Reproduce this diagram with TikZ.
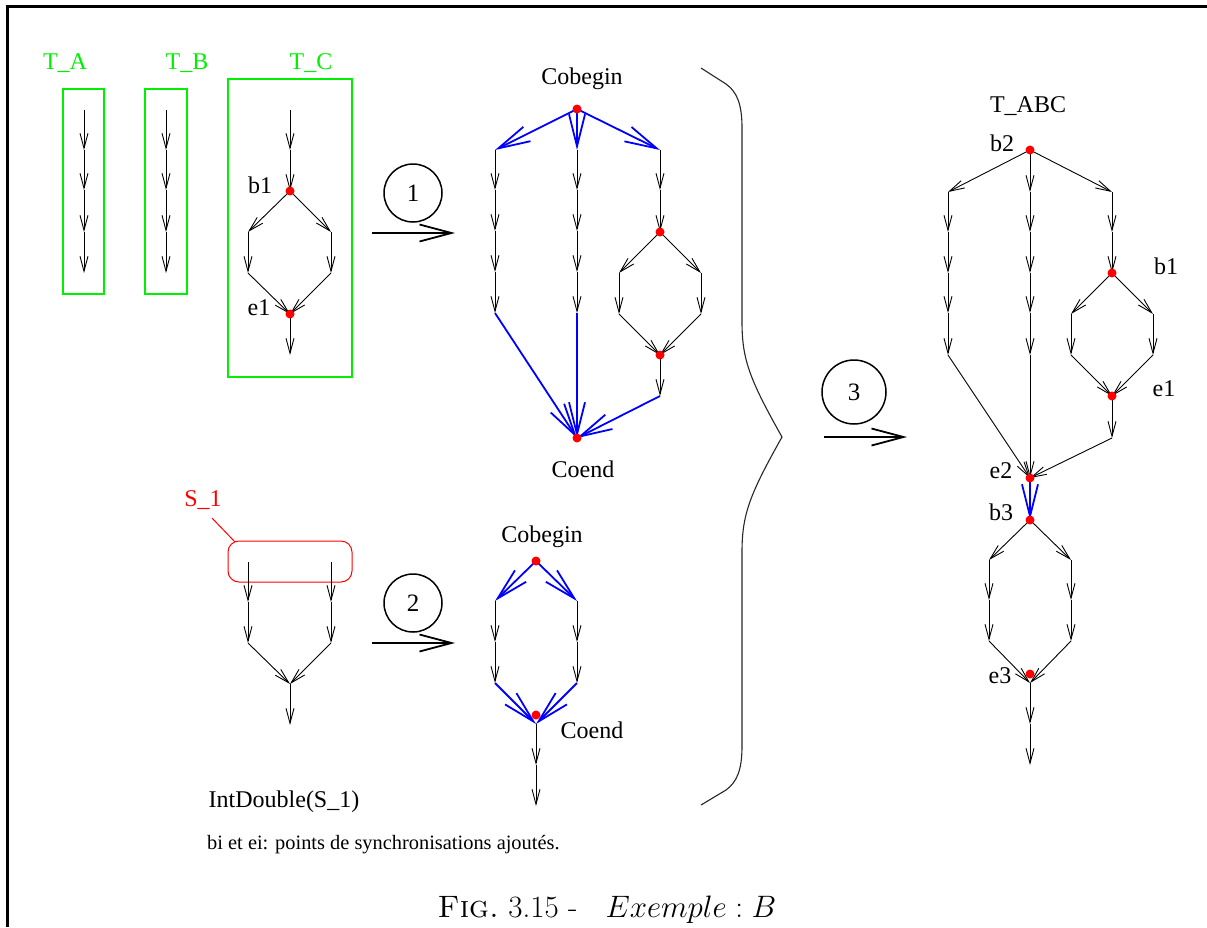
\RequirePackage{fix-cm}
\documentclass[tikz,border=0pt]{standalone}
\usepackage{fontspec}
\newfontfamily\tms{Liberation Serif}
\usetikzlibrary{arrows.meta}
\definecolor{grn}{RGB}{0,240,0}
\definecolor{blu}{RGB}{0,0,255}
\definecolor{rd}{RGB}{255,0,0}
\begin{document}
\begin{tikzpicture}[x=1pt,y=-1pt,
  ln/.style={black,line width=0.9pt},
  arr/.style={ln,-{Straight Barb[length=15pt,width=8pt]}},
  barr/.style={blu,line width=1.8pt,-{Straight Barb[length=32pt,width=16pt]}},
  bigarr/.style={black,line width=1.8pt,-{Straight Barb[length=32pt,width=17pt]}},
  lab/.style={font=\tms\fontsize{24}{28}\selectfont,anchor=base,inner sep=0pt},
  numc/.style={draw,circle,line width=1.5pt,inner sep=0pt,font=\tms\fontsize{25}{28}\selectfont},
  gbox/.style={grn,line width=1.1pt},
  dotc/.style={rd}]
\useasboundingbox (0,0) rectangle (1207,927);
% frame
\draw[line width=3pt] (6,6.4) -- (1207,6.4);
\draw[line width=3pt] (7.5,5) -- (7.5,927);

% ---------------- T_A, T_B, T_C
\node[lab,grn] (lTA) at (65,69) {T\_A};
\node[lab,grn] (lTB) at (187,69) {T\_B};
\node[lab,grn] (lTC) at (311,69) {T\_C};
\draw[gbox] (63,89) rectangle (104,294);
\draw[gbox] (145,89) rectangle (187,294);
\draw[gbox] (228,79) rectangle (352,377);
\foreach \n/\y in {0/110,1/150,2/190,3/232,4/273}{
  \coordinate (ta\n) at (84,\y);
  \coordinate (tb\n) at (166,\y);}
\foreach \i/\j in {0/1,1/2,2/3,3/4}{
  \draw[arr] (ta\i) -- (ta\j);
  \draw[arr] (tb\i) -- (tb\j);}
\coordinate (tc0) at (290,110);
\coordinate (tc1) at (290,150);
\coordinate (tcb) at (290,191);
\coordinate (tcL1) at (248,232);
\coordinate (tcR1) at (331,232);
\coordinate (tcL2) at (248,273);
\coordinate (tcR2) at (331,273);
\coordinate (tce) at (290,314);
\coordinate (tc5) at (290,355);
\draw[arr] (tc0) -- (tc1);
\draw[arr] (tc1) -- (tcb);
\draw[arr] (tcb) -- (tcL1);
\draw[arr] (tcb) -- (tcR1);
\draw[arr] (tcL1) -- (tcL2);
\draw[arr] (tcR1) -- (tcR2);
\draw[arr] (tcL2) -- (tce);
\draw[arr] (tcR2) -- (tce);
\draw[arr] (tce) -- (tc5);
\fill[dotc] (tcb) circle[radius=4.5pt];
\fill[dotc] (tce) circle[radius=4.5pt];
\node[lab] (ltcb) at (260,193) {b1};
\node[lab] (ltce) at (259,315) {e1};

% ---------------- arrow 1
\node[numc,minimum size=58pt] (n1) at (413,193) {1};
\coordinate (a1s) at (372,233);
\coordinate (a1e) at (455,233);
\draw[bigarr] (a1s) -- (a1e);

% ---------------- graph 1
\node[lab] (lcob1) at (582,84) {Cobegin};
\node[lab] (lcoe1) at (583,477) {Coend};
\coordinate (gcob) at (577,109);
\coordinate (gcoe) at (577,438);
\foreach \n/\y in {0/150,1/190,2/231,3/272,4/313}{
  \coordinate (gA\n) at (495,\y);
  \coordinate (gB\n) at (577,\y);}
\foreach \i/\j in {0/1,1/2,2/3,3/4}{
  \draw[arr] (gA\i) -- (gA\j);
  \draw[arr] (gB\i) -- (gB\j);}
\coordinate (gC0) at (660,150);
\coordinate (gC1) at (660,190);
\coordinate (gCb) at (660,232);
\coordinate (gCL1) at (619,273);
\coordinate (gCR1) at (701,273);
\coordinate (gCL2) at (619,314);
\coordinate (gCR2) at (701,314);
\coordinate (gCe) at (660,355);
\coordinate (gC5) at (660,396);
\draw[arr] (gC0) -- (gC1);
\draw[arr] (gC1) -- (gCb);
\draw[arr] (gCb) -- (gCL1);
\draw[arr] (gCb) -- (gCR1);
\draw[arr] (gCL1) -- (gCL2);
\draw[arr] (gCR1) -- (gCR2);
\draw[arr] (gCL2) -- (gCe);
\draw[arr] (gCR2) -- (gCe);
\draw[arr] (gCe) -- (gC5);
\draw[barr] (gcob) -- (gA0);
\draw[barr] (gcob) -- (gB0);
\draw[barr] (gcob) -- (gC0);
\draw[barr] (gA4) -- (gcoe);
\draw[barr] (gB4) -- (gcoe);
\draw[barr] (gC5) -- (gcoe);
\foreach \p in {gcob,gcoe,gCb,gCe}{\fill[dotc] (\p) circle[radius=4.5pt];}

% ---------------- brace
\draw[line width=1.1pt,black!85] (701,68) -- (726,84) .. controls (737,92) and (742,104) .. (742,128)
  -- (742,322) .. controls (742,360) and (750,380) .. (782,437)
  .. controls (750,494) and (742,514) .. (742,552)
  -- (742,746) .. controls (742,770) and (737,782) .. (726,790) -- (701,805);

% ---------------- arrow 3
\node[numc,minimum size=64pt] (n3) at (854,392) {3};
\coordinate (a3s) at (824,437);
\coordinate (a3e) at (907,437);
\draw[bigarr] (a3s) -- (a3e);

% ---------------- T_ABC
\node[lab] (lTABC) at (1028,112) {T\_ABC};
\coordinate (rb2) at (1030,150);
\foreach \n/\y in {0/192,1/232,2/273,3/313,4/355}{
  \coordinate (rA\n) at (948,\y);
  \coordinate (rB\n) at (1030,\y);}
\foreach \i/\j in {0/1,1/2,2/3,3/4}{
  \draw[arr] (rA\i) -- (rA\j);
  \draw[arr] (rB\i) -- (rB\j);}
\coordinate (rC0) at (1112,192);
\coordinate (rC1) at (1112,232);
\coordinate (rCb) at (1112,273);
\coordinate (rCL1) at (1071,314);
\coordinate (rCR1) at (1153,314);
\coordinate (rCL2) at (1071,355);
\coordinate (rCR2) at (1153,355);
\coordinate (rCe) at (1112,396);
\coordinate (rC5) at (1112,438);
\coordinate (re2) at (1030,478);
\draw[arr] (rb2) -- (rA0);
\draw[arr] (rb2) -- (rB0);
\draw[arr] (rb2) -- (rC0);
\draw[arr] (rC0) -- (rC1);
\draw[arr] (rC1) -- (rCb);
\draw[arr] (rCb) -- (rCL1);
\draw[arr] (rCb) -- (rCR1);
\draw[arr] (rCL1) -- (rCL2);
\draw[arr] (rCR1) -- (rCR2);
\draw[arr] (rCL2) -- (rCe);
\draw[arr] (rCR2) -- (rCe);
\draw[arr] (rCe) -- (rC5);
\draw[arr] (rA4) -- (re2);
\draw[arr] (rB4) -- (re2);
\draw[arr] (rC5) -- (re2);
\coordinate (rb3) at (1030,520);
\draw[barr] (re2) -- (rb3);
\foreach \n/\y in {1/560,2/600,3/641}{
  \coordinate (rDL\n) at (989,\y);
  \coordinate (rDR\n) at (1071,\y);}
\coordinate (re3) at (1030,683);
\coordinate (re3d) at (1030,674);
\coordinate (rE1) at (1030,724);
\coordinate (rE2) at (1030,765);
\draw[arr] (rb3) -- (rDL1);
\draw[arr] (rb3) -- (rDR1);
\draw[arr] (rDL1) -- (rDL2);
\draw[arr] (rDL2) -- (rDL3);
\draw[arr] (rDR1) -- (rDR2);
\draw[arr] (rDR2) -- (rDR3);
\draw[arr] (rDL3) -- (re3);
\draw[arr] (rDR3) -- (re3);
\draw[arr] (re3) -- (rE1);
\draw[arr] (rE1) -- (rE2);
\foreach \p in {rb2,rCb,rCe,re2,rb3,re3d}{\fill[dotc] (\p) circle[radius=4.5pt];}
\node[lab] (lb2) at (1002,151) {b2};
\node[lab] (lb1r) at (1166,274) {b1};
\node[lab] (le1r) at (1164,396) {e1};
\node[lab] (le2) at (1001,478) {e2};
\node[lab] (lb3) at (1001,520) {b3};
\node[lab] (le3) at (1000,683) {e3};

% ---------------- S_1
\node[lab,rd] (lS1) at (203,506) {S\_1};
\draw[rd,line width=1pt,rounded corners=11pt] (228,541) rectangle (352,582);
\coordinate (s1l) at (212,518);
\coordinate (s1r) at (235,542);
\draw[rd,line width=1pt] (s1l) -- (s1r);
\foreach \n/\y in {0/562,1/602,2/643}{
  \coordinate (sL\n) at (248,\y);
  \coordinate (sR\n) at (331,\y);}
\coordinate (sJ) at (290,684);
\coordinate (sE) at (290,725);
\draw[arr] (sL0) -- (sL1);
\draw[arr] (sL1) -- (sL2);
\draw[arr] (sR0) -- (sR1);
\draw[arr] (sR1) -- (sR2);
\draw[arr] (sL2) -- (sJ);
\draw[arr] (sR2) -- (sJ);
\draw[arr] (sJ) -- (sE);
\node[lab] (lint) at (284,807) {IntDouble(S\_1)};
\node[lab,anchor=base west,font=\tms\fontsize{20.4}{24}\selectfont] (lnote) at (207,849) {bi et ei: points de synchronisations ajoutés.};

% ---------------- arrow 2
\node[numc,minimum size=58pt] (n2) at (413,603) {2};
\coordinate (a2s) at (372,643);
\coordinate (a2e) at (455,643);
\draw[bigarr] (a2s) -- (a2e);

% ---------------- graph 2
\node[lab] (lcob2) at (542,542) {Cobegin};
\node[lab] (lcoe2) at (592,738) {Coend};
\coordinate (hcob) at (536,561);
\foreach \n/\y in {0/601,1/642,2/683}{
  \coordinate (hL\n) at (495,\y);
  \coordinate (hR\n) at (577,\y);}
\coordinate (hJ) at (536,724);
\coordinate (hJd) at (536,715);
\coordinate (hE1) at (536,765);
\coordinate (hE2) at (536,806);
\draw[barr] (hcob) -- (hL0);
\draw[barr] (hcob) -- (hR0);
\draw[arr] (hL0) -- (hL1);
\draw[arr] (hL1) -- (hL2);
\draw[arr] (hR0) -- (hR1);
\draw[arr] (hR1) -- (hR2);
\draw[barr] (hL2) -- (hJ);
\draw[barr] (hR2) -- (hJ);
\draw[arr] (hJ) -- (hE1);
\draw[arr] (hE1) -- (hE2);
\fill[dotc] (hcob) circle[radius=4.5pt];
\fill[dotc] (hJd) circle[radius=4.5pt];

% ---------------- caption
\node[anchor=base,inner sep=0pt,font=\fontsize{31}{36}\selectfont] (cap) at (607,917)
  {\textsc{Fig.}\ 3.15 -\ \ \ $Exemple : B$};
\end{tikzpicture}
\end{document}
